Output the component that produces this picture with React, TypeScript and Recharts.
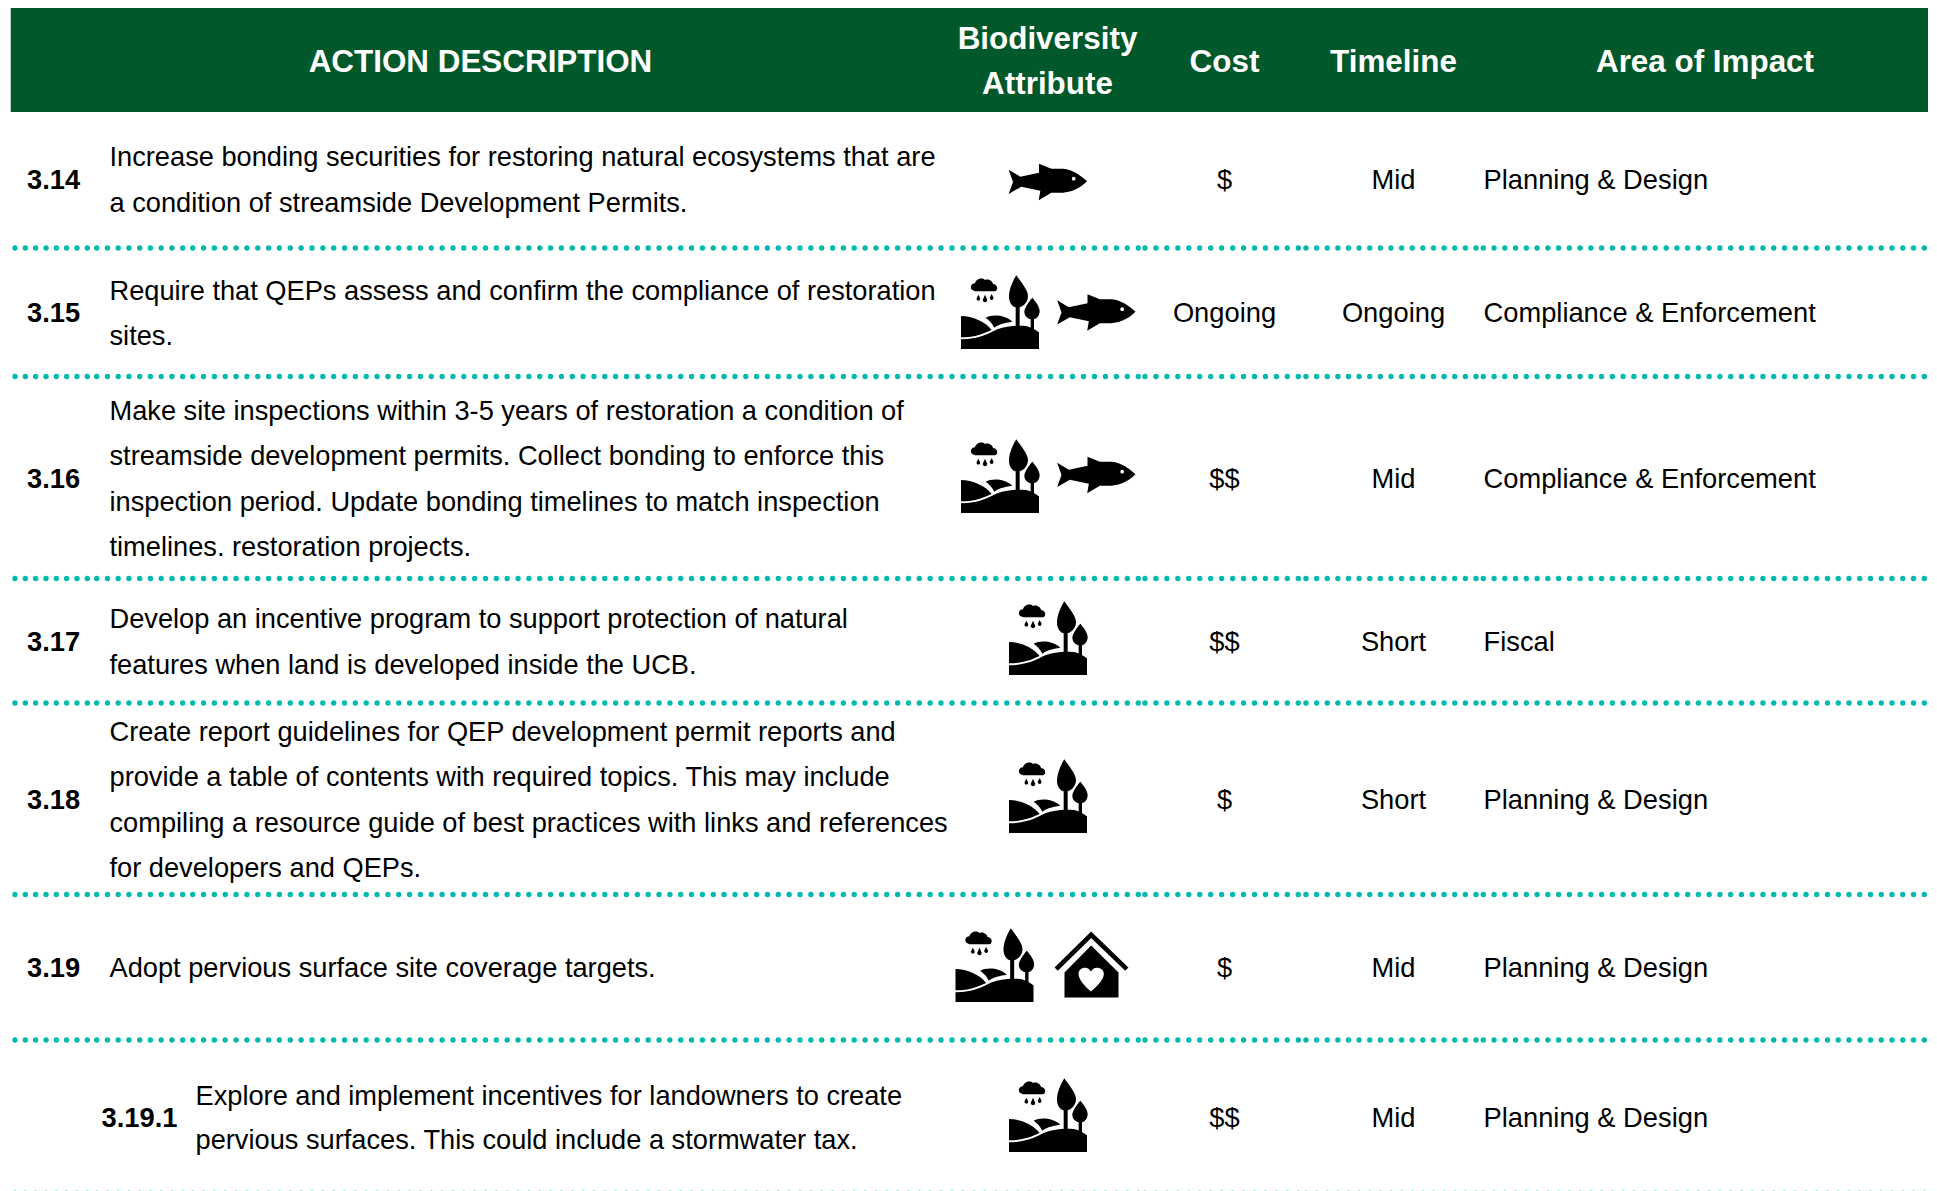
import React from "react";
import { ScatterChart, Scatter, XAxis, YAxis, ReferenceArea, ReferenceLine } from "recharts";

// ---------- content ----------
const ids = ["3.14", "3.15", "3.16", "3.17", "3.18", "3.19", "3.19.1"];
const descriptions = [
  ["Increase bonding securities for restoring natural ecosystems that are", "a condition of streamside Development Permits."],
  ["Require that QEPs assess and confirm the compliance of restoration", "sites."],
  ["Make site inspections within 3-5 years of restoration a condition of", "streamside development permits. Collect bonding to enforce this", "inspection period. Update bonding timelines to match inspection", "timelines. restoration projects."],
  ["Develop an incentive program to support protection of natural", "features when land is developed inside the UCB."],
  ["Create report guidelines for QEP development permit reports and", "provide a table of contents with required topics. This may include", "compiling a resource guide of best practices with links and references", "for developers and QEPs."],
  ["Adopt pervious surface site coverage targets."],
  ["Explore and implement incentives for landowners to create", "pervious surfaces. This could include a stormwater tax."],
];
const costs = ["$", "Ongoing", "$$", "$$", "$", "$", "$$"];
const timelines = ["Mid", "Ongoing", "Mid", "Short", "Short", "Mid", "Mid"];
const areas = ["Planning & Design", "Compliance & Enforcement", "Compliance & Enforcement", "Fiscal", "Planning & Design", "Planning & Design", "Planning & Design"];
const attributes = [["fish"], ["land", "fish"], ["land", "fish"], ["land"], ["land"], ["land", "house"], ["land"]];
const headers = ["ACTION DESCRIPTION", "Cost", "Timeline", "Area of Impact"];
const headerTwoLine = ["Biodiversity", "Attribute"];

// ---------- layout ----------
const W = 1937;
const H = 1191;
const GREEN = "#01582A";
const TEAL = "#00BAB0";
const FONT = "'Liberation Sans', Arial, sans-serif";
const BODY = 27.3;
const DESC = 27.22;
const HEAD = 31.4;
const rowCenters = [179, 312.5, 478, 641, 799, 967, 1117];
const lineHeights = [45.6, 45.6, 45.6, 45.6, 45.6, 45.6, 44.6];
const idX = [27, 27, 27, 27, 27, 27, 101.5];
const descX = [109.5, 109.5, 109.5, 109.5, 109.5, 109.5, 195.5];
const costX = 1224.5;
const timeX = 1393.5;
const areaX = 1483.5;
const headerXs = [480.5, 1224.5, 1393.5, 1705];
const headerBioX = 1047.5;
const iconCenters: [number, number][][] = [
  [[1048, 182]],
  [[1000, 312], [1096.5, 312.5]],
  [[1000, 476], [1096.5, 475]],
  [[1048, 638]],
  [[1048, 796]],
  [[994.5, 965], [1091.5, 965.5]],
  [[1048, 1115]],
];
const ruleYs = [248, 376.5, 578.5, 703, 894.5, 1040, 1193.3];
const ruleSpans = [
  [15, 87.3],
  [96.7, 182.7],
  [192.7, 941],
  [952, 1138.3],
  [1145, 1298.3],
  [1306, 1476],
  [1483.3, 1924.3],
];

type TextPoint = { x: number; y: number; text: string; anchor: string; weight: number; size: number; fill: string };

const textPoints: TextPoint[] = [];
const put = (x: number, y: number, text: string, anchor = "start", weight = 400, size = BODY, fill = "#000") =>
  textPoints.push({ x, y, text, anchor, weight, size, fill });

headers.forEach((h, i) => put(headerXs[i], 61, h, "middle", 700, HEAD, "#fff"));
put(headerBioX, 38.5, headerTwoLine[0], "middle", 700, HEAD, "#fff");
put(headerBioX, 83.5, headerTwoLine[1], "middle", 700, HEAD, "#fff");
ids.forEach((id, r) => {
  put(idX[r], rowCenters[r], id, "start", 700);
  const lines = descriptions[r];
  lines.forEach((ln, k) =>
    put(descX[r], rowCenters[r] + 0.4 + (k - (lines.length - 1) / 2) * lineHeights[r], ln, "start", 400, DESC)
  );
  put(costX, rowCenters[r], costs[r], "middle");
  put(timeX, rowCenters[r], timelines[r], "middle");
  put(areaX, rowCenters[r], areas[r]);
});

const iconPoints = attributes.flatMap((list, r) =>
  list.map((kind, k) => ({ x: iconCenters[r][k][0], y: iconCenters[r][k][1], kind }))
);

const TextMark = (p: any) => {
  const d = p.payload as TextPoint;
  return (
    <text
      x={p.cx}
      y={p.cy + d.size * 0.35}
      textAnchor={d.anchor as any}
      fontFamily={FONT}
      fontSize={d.size}
      fontWeight={d.weight}
      fill={d.fill}
    >
      {d.text}
    </text>
  );
};

const Fish = () => (
  <g transform="scale(0.3333) translate(-145 -82)">
    <path
      d="M27 45 L62 66 L118 54 L118 27 L155 42 L190 42 C220 44 245 64 262 80 C245 96 225 111 190 114 L155 114 L117 137 L122 108 L65 96 L27 118 L40 82 Z"
      fill="#000"
    />
    <circle cx={222} cy={72} r={5.5} fill="#fff" />
  </g>
);

const Land = () => (
  <g transform="scale(0.3333) translate(-133 -136)" fill="#000">
    <path d="M16 148 C50 148 90 165 108 190 C85 200 60 212 16 212 Z" />
    <path d="M16 218 C70 218 100 200 125 188 C150 178 180 175 210 178 C230 182 240 190 250 197 L250 247 L16 247 Z" />
    <path d="M90 153 C110 143 145 143 170 165 C145 168 125 175 116 183 C110 170 100 160 90 153 Z" />
    <path d="M182 26 C170 45 160 70 160 90 C160 108 170 120 180 122 L180 180 L192 180 L192 122 C205 118 217 105 217 88 C217 70 195 45 182 26 Z" />
    <path d="M230 93 C219 105 206 125 206 135 C206 148 217 156 225 158 L225 190 L235 195 L235 158 C245 155 252 145 252 133 C252 120 240 105 230 93 Z" />
    <path d="M50 70 C42 65 45 50 58 50 C60 38 78 30 88 40 C100 35 112 45 112 52 C125 52 130 70 118 74 L58 74 Z" />
    <path d="M68 84 L73 94 A5.5 5.5 0 1 1 63 94 Z" />
    <path d="M88 84 L94 98 A6.5 6.5 0 1 1 82 98 Z" />
    <path d="M108 82 L113 92 A5.5 5.5 0 1 1 103 92 Z" />
  </g>
);

const House = () => (
  <g transform="scale(0.3333) translate(-139 -122)">
    <path d="M33 133 L138 30 L245 133" fill="none" stroke="#000" strokeWidth={14} strokeLinejoin="miter" />
    <path d="M138 62 L220 143 L220 218 L58 218 L58 143 Z" fill="#000" />
    <path d="M137 200 C120 185 100 165 100 147 C100 130 125 120 137 140 C150 120 176 130 176 147 C176 165 155 185 137 200 Z" fill="#fff" />
  </g>
);

const IconMark = (p: any) => {
  const kind = p.payload.kind;
  return (
    <g transform={`translate(${p.cx} ${p.cy})`}>
      {kind === "fish" ? <Fish /> : kind === "land" ? <Land /> : <House />}
    </g>
  );
};

// each cell border is its own dotted line: a whole number of dots, first and last at the cell's ends
const segments = ruleYs.flatMap((y) =>
  ruleSpans.map(([a, b]) => {
    const n = Math.round((b - a) / 10.8);
    return { y, a, b, gap: (b - a) / n };
  })
);

export default function App() {
  return (
    <div style={{ position: "absolute", left: 0, top: 0, width: W, height: H, overflow: "hidden", background: "#fff" }}>
      <ScatterChart width={W} height={H} margin={{ top: 0, right: 0, bottom: 0, left: 0 }}>
        <XAxis type="number" dataKey="x" domain={[0, W]} hide />
        <YAxis type="number" dataKey="y" domain={[0, H]} reversed hide />
        <ReferenceArea x1={10.7} x2={1928} y1={8} y2={112} fill={GREEN} fillOpacity={1} stroke="none" />
        {segments.map((s, i) => (
          <ReferenceLine
            key={i}
            ifOverflow="visible"
            segment={[{ x: s.a, y: s.y }, { x: s.b + 0.3, y: s.y }]}
            stroke={TEAL}
            strokeWidth={5.4}
            strokeLinecap="round"
            strokeDasharray={`0 ${s.gap}`}
          />
        ))}
        <Scatter data={iconPoints} isAnimationActive={false} shape={IconMark} />
        <Scatter data={textPoints} isAnimationActive={false} shape={TextMark} />
      </ScatterChart>
    </div>
  );
}
